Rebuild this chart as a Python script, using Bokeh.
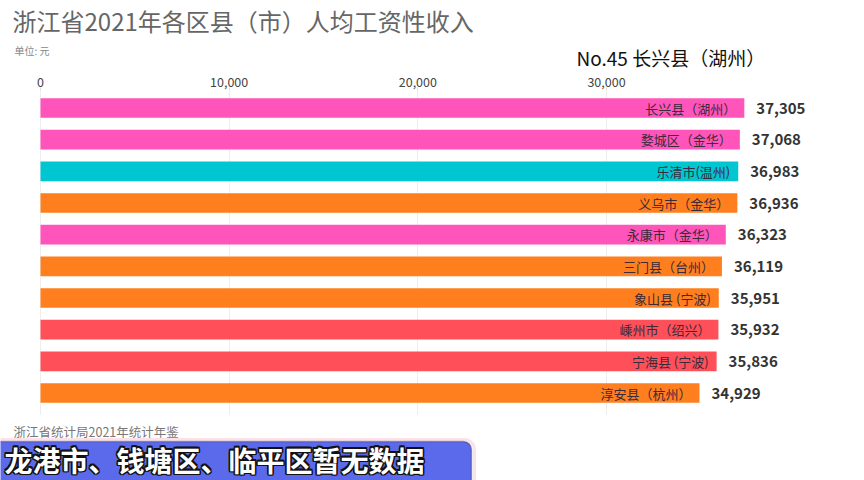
from bokeh.plotting import figure
from bokeh.layouts import column
from bokeh.models import Range1d, LinearAxis, FixedTicker, NumeralTickFormatter, Label, BoxAnnotation, ColumnDataSource
from bokeh.core.properties import value
from bokeh.embed import file_html
from bokeh.resources import INLINE

# ---- data ----
names = ["长兴县（湖州）", "婺城区（金华）", "乐清市(温州)", "义乌市（金华）", "永康市（金华）",
         "三门县（台州）", "象山县 (宁波)", "嵊州市（绍兴）", "宁海县 (宁波)", "淳安县（杭州）"]
values = [37305, 37068, 36983, 36936, 36323, 36119, 35951, 35932, 35836, 34929]
colors = ["#ff55bb", "#ff55bb", "#00c6d2", "#ff7f1e", "#ff55bb",
          "#ff7f1e", "#ff7f1e", "#ff5059", "#ff5059", "#ff7f1e"]
ticks = [0, 10000, 20000, 30000]
title_text = "浙江省2021年各区县（市）人均工资性收入"
unit_text = "单位: 元"
current_text = "No.45 长兴县（湖州）"
source_text = "浙江省统计局2021年统计年鉴"
banner_text = "龙港市、钱塘区、临平区暂无数据"

FONT = "Noto Sans CJK SC"
W = 864
HEAD_H = 70
MAIN_H = 345
FOOT_H = 480 - HEAD_H - MAIN_H
LEFT, MAIN_TOP = 40, 20
px_per_unit = 566 / 30000
frame_h = MAIN_H - MAIN_TOP
pitch = 31.67
first_center = 107.5 - HEAD_H - MAIN_TOP


def blank(h):
    f = figure(width=W, height=h, output_backend="svg", toolbar_location=None,
               x_range=Range1d(0, W), y_range=Range1d(h, 0),
               x_axis_location=None, y_axis_location=None,
               min_border=0)
    f.outline_line_color = None
    f.grid.visible = False
    f.background_fill_color = "white"
    f.border_fill_color = "white"
    return f


def put(f, text, x, y, size, color, style="normal", dx=0, dy=0):
    f.add_layout(Label(x=x, y=y, text=text, x_offset=dx, y_offset=dy,
                       text_font=FONT, text_font_size=size, text_color=color,
                       text_font_style=style, text_align="left", text_baseline="middle"))


# ---- header ----
head = blank(HEAD_H)
put(head, title_text, 12, 20, "24px", "#666666")
put(head, unit_text, 14, 50, "10px", "#888888")
put(head, current_text, 576, 57, "19px", "#111111")

# ---- main chart ----
rank = list(range(len(values)))
src = ColumnDataSource(dict(
    y=rank, v=values, name=names, color=colors,
    lab=[f"{v:,}" for v in values]))

p = figure(width=W, height=MAIN_H, output_backend="svg", toolbar_location=None,
           x_range=Range1d(-LEFT / px_per_unit, (W - LEFT) / px_per_unit),
           y_range=Range1d((frame_h - first_center) / pitch, -first_center / pitch),
           x_axis_location=None, y_axis_location=None,
           min_border_left=0, min_border_right=0, min_border_top=MAIN_TOP, min_border_bottom=0)
p.outline_line_color = None
p.background_fill_color = "white"
p.border_fill_color = "white"

ax = LinearAxis(ticker=FixedTicker(ticks=ticks), formatter=NumeralTickFormatter(format="0,0"))
ax.axis_line_color = None
ax.major_tick_line_color = "#dddddd"
ax.major_tick_in = 0
ax.major_tick_out = 3
ax.minor_tick_line_color = None
ax.major_label_standoff = 1
ax.major_label_text_font = FONT
ax.major_label_text_font_size = "12.5px"
ax.major_label_text_color = "#444444"
p.add_layout(ax, "above")

p.ygrid.visible = False
p.xgrid.ticker = FixedTicker(ticks=ticks)
p.xgrid.grid_line_color = "#eeeeee"
p.xgrid.grid_line_width = 1

p.hbar(y="y", left=0, right="v", height=0.62, fill_color="color", line_color=None, source=src)

p.text(x="v", y="y", text="name", source=src, x_offset=-8, text_align="right", text_baseline="middle",
       text_font=value(FONT), text_font_size="13px", text_color="#3a2a3a")
p.text(x="v", y="y", text="lab", source=src, x_offset=12, text_align="left", text_baseline="middle",
       text_font=value(FONT), text_font_size="15px", text_font_style="bold", text_color="#333333")

# ---- footer ----
foot = blank(FOOT_H)
put(foot, source_text, 13, 431 - HEAD_H - MAIN_H, "12.5px", "#777777")
btop = 441 - HEAD_H - MAIN_H
foot.add_layout(BoxAnnotation(left=-14, right=474, top=btop - 2, bottom=FOOT_H + 12,
                              fill_alpha=0, line_color="#f3a0b4", line_width=3, border_radius=10))
foot.add_layout(BoxAnnotation(left=-12, right=471, top=btop, bottom=FOOT_H + 10,
                              fill_color="#5b6aea", fill_alpha=1, line_color="#111111", line_width=1.5,
                              border_radius=8))
by = 459 - HEAD_H - MAIN_H
for dx, dy in [(-1.5, 0), (1.5, 0), (0, -1.5), (0, 1.5), (-1.2, -1.2), (1.2, 1.2), (-1.2, 1.2), (1.2, -1.2)]:
    put(foot, banner_text, 4, by, "28px", "#111111", style="bold", dx=dx, dy=dy)
put(foot, banner_text, 4, by, "28px", "#ffffff", style="bold")

layout = column(head, p, foot, spacing=0)
open("out.html", "w").write(file_html(layout, INLINE))
